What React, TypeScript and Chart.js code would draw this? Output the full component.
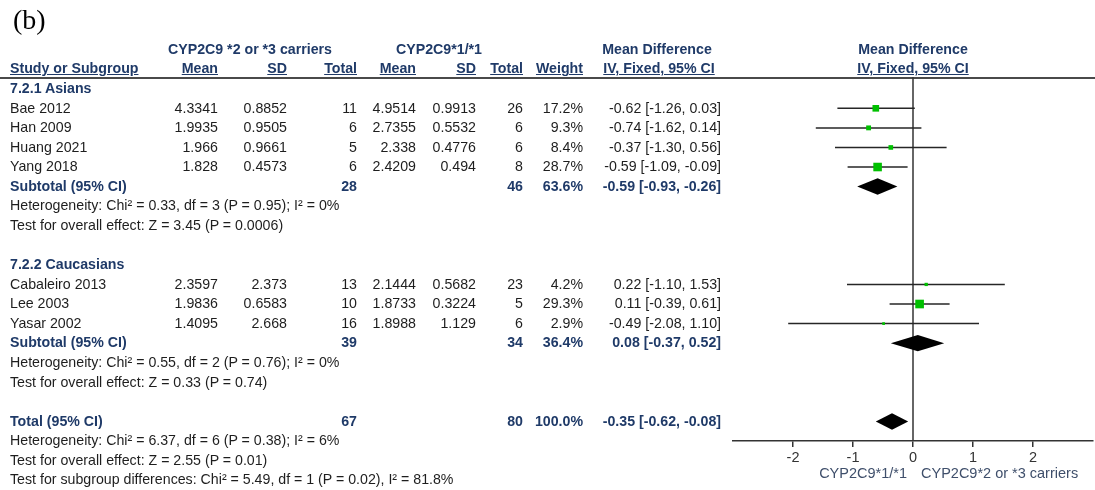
import React, { useEffect, useRef } from "react";
import { Chart, registerables } from "chart.js";

Chart.register(...registerables);

// ---- study-level data ----
const studies = ["Bae 2012", "Han 2009", "Huang 2021", "Yang 2018", "Cabaleiro 2013", "Lee 2003", "Yasar 2002"];
const studyGroup = [0, 0, 0, 0, 1, 1, 1];
const mean1 = [4.3341, 1.9935, 1.966, 1.828, 2.3597, 1.9836, 1.4095];
const sd1 = [0.8852, 0.9505, 0.9661, 0.4573, 2.373, 0.6583, 2.668];
const n1 = [11, 6, 5, 6, 13, 10, 16];
const mean2 = [4.9514, 2.7355, 2.338, 2.4209, 2.1444, 1.8733, 1.8988];
const sd2 = [0.9913, 0.5532, 0.4776, 0.494, 0.5682, 0.3224, 1.129];
const n2 = [26, 6, 6, 8, 23, 5, 6];
const weight = [17.2, 9.3, 8.4, 28.7, 4.2, 29.3, 2.9];
const md = [-0.62, -0.74, -0.37, -0.59, 0.22, 0.11, -0.49];
const ciLow = [-1.26, -1.62, -1.3, -1.09, -1.1, -0.39, -2.08];
const ciHigh = [0.03, 0.14, 0.56, -0.09, 1.53, 0.61, 1.1];

// ---- subgroup data ----
const groupNames = ["7.2.1 Asians", "7.2.2 Caucasians"];
const subN1 = [28, 39];
const subN2 = [46, 34];
const subWeight = [63.6, 36.4];
const subMd = [-0.59, 0.08];
const subLow = [-0.93, -0.37];
const subHigh = [-0.26, 0.52];
const subHet = [
  "Heterogeneity: Chi² = 0.33, df = 3 (P = 0.95); I² = 0%",
  "Heterogeneity: Chi² = 0.55, df = 2 (P = 0.76); I² = 0%",
];
const subEffect = [
  "Test for overall effect: Z = 3.45 (P = 0.0006)",
  "Test for overall effect: Z = 0.33 (P = 0.74)",
];

// ---- pooled data ----
const totalN1 = 67;
const totalN2 = 80;
const totalWeight = 100.0;
const totalMd = -0.35;
const totalLow = -0.62;
const totalHigh = -0.08;
const totalHet = "Heterogeneity: Chi² = 6.37, df = 6 (P = 0.38); I² = 6%";
const totalEffect = "Test for overall effect: Z = 2.55 (P = 0.01)";
const subgroupDiff = "Test for subgroup differences: Chi² = 5.49, df = 1 (P = 0.02), I² = 81.8%";

// ---- axis ----
const tickValues = [-2, -1, 0, 1, 2];
const favoursLeft = "CYP2C9*1/*1";
const favoursRight = "CYP2C9*2 or *3 carriers";
const group1Label = "CYP2C9 *2 or *3 carriers";
const group2Label = "CYP2C9*1/*1";

// ---- page layout ----
const W = 1095;
const H = 490;
const PLOT_LEFT = 733;
const PLOT_RIGHT_PAD = 2;
const PLOT_TOP = 77;
const PLOT_BOTTOM = 441;
const ROW_MIN = -0.6;
const ROW_MAX = 18;
const ROW_PX = (PLOT_BOTTOM - PLOT_TOP) / (ROW_MAX - ROW_MIN);
const rowY = (r: number) => PLOT_TOP + (r - ROW_MIN) * ROW_PX;

const FONT = "'Liberation Sans', Arial, sans-serif";
const FONT_SIZE = 14.2;
const TEXT = "#1e1e1e";
const NAVY = "#1f3a68";

// row indices, built from the grouping
const groupRow: number[] = [];
const studyRow: number[] = [];
const subtotalRow: number[] = [];
const hetRow: number[] = [];
const effectRow: number[] = [];
let cursor = 0;
groupNames.forEach((_, g) => {
  groupRow[g] = cursor++;
  studies.forEach((_, i) => {
    if (studyGroup[i] === g) studyRow[i] = cursor++;
  });
  subtotalRow[g] = cursor++;
  hetRow[g] = cursor++;
  effectRow[g] = cursor++;
  cursor++;
});
const totalRow = cursor++;
const totalHetRow = cursor++;
const totalEffectRow = cursor++;
const subgroupDiffRow = cursor++;

const fmtCI = (m: number, l: number, h: number) => `${m.toFixed(2)} [${l.toFixed(2)}, ${h.toFixed(2)}]`;
const fmtW = (w: number) => `${w.toFixed(1)}%`;

// square side grows with the square root of the weight
const squareRadius = (w: number) => (1.6 * Math.sqrt(w)) / Math.SQRT2;

const diamonds = [
  ...subMd.map((m, g) => ({ md: m, lo: subLow[g], hi: subHigh[g], row: subtotalRow[g] })),
  { md: totalMd, lo: totalLow, hi: totalHigh, row: totalRow },
];

const framePlugin = {
  id: "forestFrame",
  beforeDatasetsDraw(chart: any) {
    const { ctx, chartArea, scales } = chart;
    ctx.save();
    // header rule across the full width
    ctx.strokeStyle = "#4a4a4a";
    ctx.lineWidth = 2;
    ctx.beginPath();
    ctx.moveTo(0, chartArea.top + 1);
    ctx.lineTo(W, chartArea.top + 1);
    ctx.stroke();
    // line of no effect
    const x0 = scales.x.getPixelForValue(0);
    ctx.strokeStyle = "#333";
    ctx.lineWidth = 1.5;
    ctx.beginPath();
    ctx.moveTo(x0, chartArea.top);
    ctx.lineTo(x0, chartArea.bottom);
    ctx.stroke();
    ctx.restore();
  },
  afterDatasetsDraw(chart: any) {
    const { ctx, scales } = chart;
    const { x, y } = scales;
    ctx.save();
    ctx.fillStyle = "#000";
    diamonds.forEach((d) => {
      const yc = y.getPixelForValue(d.row);
      const yt = y.getPixelForValue(d.row - 0.42);
      const yb = y.getPixelForValue(d.row + 0.42);
      ctx.beginPath();
      ctx.moveTo(x.getPixelForValue(d.lo), yc);
      ctx.lineTo(x.getPixelForValue(d.md), yt);
      ctx.lineTo(x.getPixelForValue(d.hi), yc);
      ctx.lineTo(x.getPixelForValue(d.md), yb);
      ctx.closePath();
      ctx.fill();
    });
    ctx.restore();
  },
};

type CellProps = {
  text: string | number;
  y: number;
  x: number;
  align?: "left" | "right" | "center";
  bold?: boolean;
  color?: string;
  underline?: boolean;
  size?: number;
};

function Cell({ text, y, x, align = "left", bold, color = TEXT, underline, size = FONT_SIZE }: CellProps) {
  const style: React.CSSProperties = {
    position: "absolute",
    top: y - ROW_PX / 2,
    height: ROW_PX,
    lineHeight: `${ROW_PX}px`,
    fontFamily: FONT,
    fontSize: size,
    fontWeight: bold ? "bold" : "normal",
    color,
    whiteSpace: "nowrap",
    textDecoration: underline ? "underline" : "none",
  };
  if (align === "left") style.left = x;
  else if (align === "right") style.right = W - x;
  else {
    style.left = x - 200;
    style.width = 400;
    style.textAlign = "center";
  }
  return <div style={style}>{text}</div>;
}

// column anchors
const COL_NAME = 10;
const COL_M1 = 218;
const COL_SD1 = 287;
const COL_N1 = 357;
const COL_M2 = 416;
const COL_SD2 = 476;
const COL_N2 = 523;
const COL_W = 583;
const COL_CI = 721;
const COL_CI_CENTER = 657;
const PLOT_CENTER = 913;

export default function App() {
  const canvasRef = useRef<HTMLCanvasElement | null>(null);

  useEffect(() => {
    if (!canvasRef.current) return;
    const squares = {
      label: "Mean difference",
      data: md.map((v, i) => ({ x: v, y: studyRow[i] })),
      pointStyle: "rect",
      pointRadius: weight.map(squareRadius),
      pointHoverRadius: weight.map(squareRadius),
      backgroundColor: "#00c000",
      borderWidth: 0,
      order: 0,
    };
    const whiskers = studies.map((s, i) => ({
      label: s,
      data: [
        { x: ciLow[i], y: studyRow[i] },
        { x: ciHigh[i], y: studyRow[i] },
      ],
      showLine: true,
      borderColor: "#262626",
      borderWidth: 1.5,
      pointRadius: 0,
      pointHoverRadius: 0,
      order: 1,
    }));

    const chart = new Chart(canvasRef.current, {
      type: "scatter",
      data: { datasets: [squares as any, ...(whiskers as any)] },
      options: {
        responsive: false,
        animation: false,
        devicePixelRatio: 1,
        events: [],
        layout: {
          autoPadding: false,
          padding: { left: PLOT_LEFT, right: PLOT_RIGHT_PAD, top: PLOT_TOP, bottom: 0 },
        },
        plugins: { legend: { display: false }, tooltip: { enabled: false } },
        scales: {
          x: {
            type: "linear",
            position: "bottom",
            min: -3,
            max: 3,
            afterBuildTicks: (s: any) => {
              s.ticks = tickValues.map((v) => ({ value: v }));
            },
            afterFit: (s: any) => {
              s.height = H - PLOT_BOTTOM;
              s.paddingLeft = 0;
              s.paddingRight = 0;
            },
            grid: { drawOnChartArea: false, drawTicks: true, tickLength: 6, color: "#333", lineWidth: 1.5 },
            border: { display: true, color: "#333", width: 1.5 },
            ticks: {
              color: "#333",
              font: { family: FONT, size: 14.5 },
              padding: 2,
              maxRotation: 0,
              autoSkip: false,
              callback: (v: any) => String(v),
            },
          },
          y: { type: "linear", min: ROW_MIN, max: ROW_MAX, reverse: true, display: false },
        },
      } as any,
      plugins: [framePlugin],
    });
    return () => chart.destroy();
  }, []);

  const h1 = rowY(-2);
  const h2 = rowY(-1);

  return (
    <div style={{ position: "absolute", left: 0, top: 0, width: W, height: H, overflow: "hidden", background: "#fff" }}>
      <canvas ref={canvasRef} width={W} height={H} style={{ position: "absolute", left: 0, top: 0 }} />

      <div
        style={{
          position: "absolute",
          left: 13,
          top: 3,
          fontFamily: "'Liberation Serif', 'Times New Roman', serif",
          fontSize: 28,
          lineHeight: "34px",
          color: "#000",
        }}
      >
        (b)
      </div>

      {/* column headers */}
      <Cell text={group1Label} x={250} y={h1} align="center" bold color={NAVY} />
      <Cell text={group2Label} x={439} y={h1} align="center" bold color={NAVY} />
      <Cell text="Mean Difference" x={COL_CI_CENTER} y={h1} align="center" bold color={NAVY} />
      <Cell text="Mean Difference" x={PLOT_CENTER} y={h1} align="center" bold color={NAVY} />
      <Cell text="Study or Subgroup" x={COL_NAME} y={h2} bold color={NAVY} underline />
      <Cell text="Mean" x={COL_M1} y={h2} align="right" bold color={NAVY} underline />
      <Cell text="SD" x={COL_SD1} y={h2} align="right" bold color={NAVY} underline />
      <Cell text="Total" x={COL_N1} y={h2} align="right" bold color={NAVY} underline />
      <Cell text="Mean" x={COL_M2} y={h2} align="right" bold color={NAVY} underline />
      <Cell text="SD" x={COL_SD2} y={h2} align="right" bold color={NAVY} underline />
      <Cell text="Total" x={COL_N2} y={h2} align="right" bold color={NAVY} underline />
      <Cell text="Weight" x={COL_W} y={h2} align="right" bold color={NAVY} underline />
      <Cell text="IV, Fixed, 95% CI" x={COL_CI_CENTER + 2} y={h2} align="center" bold color={NAVY} underline />
      <Cell text="IV, Fixed, 95% CI" x={PLOT_CENTER} y={h2} align="center" bold color={NAVY} underline />

      {groupNames.map((g, gi) => (
        <React.Fragment key={g}>
          <Cell text={g} x={COL_NAME} y={rowY(groupRow[gi])} bold color={NAVY} />
          <Cell text="Subtotal (95% CI)" x={COL_NAME} y={rowY(subtotalRow[gi])} bold color={NAVY} />
          <Cell text={subN1[gi]} x={COL_N1} y={rowY(subtotalRow[gi])} align="right" bold color={NAVY} />
          <Cell text={subN2[gi]} x={COL_N2} y={rowY(subtotalRow[gi])} align="right" bold color={NAVY} />
          <Cell text={fmtW(subWeight[gi])} x={COL_W} y={rowY(subtotalRow[gi])} align="right" bold color={NAVY} />
          <Cell
            text={fmtCI(subMd[gi], subLow[gi], subHigh[gi])}
            x={COL_CI}
            y={rowY(subtotalRow[gi])}
            align="right"
            bold
            color={NAVY}
          />
          <Cell text={subHet[gi]} x={COL_NAME} y={rowY(hetRow[gi])} />
          <Cell text={subEffect[gi]} x={COL_NAME} y={rowY(effectRow[gi])} />
        </React.Fragment>
      ))}

      {studies.map((s, i) => {
        const y = rowY(studyRow[i]);
        return (
          <React.Fragment key={s}>
            <Cell text={s} x={COL_NAME} y={y} />
            <Cell text={mean1[i]} x={COL_M1} y={y} align="right" />
            <Cell text={sd1[i]} x={COL_SD1} y={y} align="right" />
            <Cell text={n1[i]} x={COL_N1} y={y} align="right" />
            <Cell text={mean2[i]} x={COL_M2} y={y} align="right" />
            <Cell text={sd2[i]} x={COL_SD2} y={y} align="right" />
            <Cell text={n2[i]} x={COL_N2} y={y} align="right" />
            <Cell text={fmtW(weight[i])} x={COL_W} y={y} align="right" />
            <Cell text={fmtCI(md[i], ciLow[i], ciHigh[i])} x={COL_CI} y={y} align="right" />
          </React.Fragment>
        );
      })}

      <Cell text="Total (95% CI)" x={COL_NAME} y={rowY(totalRow)} bold color={NAVY} />
      <Cell text={totalN1} x={COL_N1} y={rowY(totalRow)} align="right" bold color={NAVY} />
      <Cell text={totalN2} x={COL_N2} y={rowY(totalRow)} align="right" bold color={NAVY} />
      <Cell text={fmtW(totalWeight)} x={COL_W} y={rowY(totalRow)} align="right" bold color={NAVY} />
      <Cell text={fmtCI(totalMd, totalLow, totalHigh)} x={COL_CI} y={rowY(totalRow)} align="right" bold color={NAVY} />
      <Cell text={totalHet} x={COL_NAME} y={rowY(totalHetRow)} />
      <Cell text={totalEffect} x={COL_NAME} y={rowY(totalEffectRow)} />
      <Cell text={subgroupDiff} x={COL_NAME} y={rowY(subgroupDiffRow)} />

      {/* favours labels under the axis */}
      <Cell text={favoursLeft} x={907} y={474} align="right" color="#3f4f6b" size={14.5} />
      <Cell text={favoursRight} x={921} y={474} align="left" color="#3f4f6b" size={14.5} />
    </div>
  );
}
